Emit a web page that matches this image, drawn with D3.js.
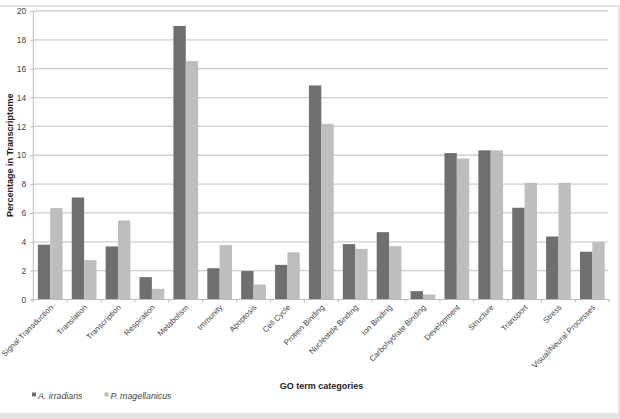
<!DOCTYPE html>
<html><head><meta charset="utf-8">
<script src="https://cdn.jsdelivr.net/npm/d3@7"></script>
<style>body{margin:0;background:#fff}svg{display:block;font-family:"Liberation Sans",Arial,sans-serif}</style>
</head><body><svg id="c" width="620" height="419"></svg>
<script>
const categories = ["Signal Transduction","Translation","Transcription","Respiration","Metabolism","Immunity","Apoptosis","Cell Cycle","Protein Binding","Nucleotide Binding","Ion Binding","Carbohydrate Binding","Development","Structure","Transport","Stress","Visual/Neural Processes"];
const seriesNames = ["A. irradians","P. magellanicus"];
const irradians = [3.8,7.07,3.68,1.55,18.96,2.17,1.97,2.4,14.84,3.84,4.67,0.58,10.15,10.34,6.36,4.37,3.31];
const magellanicus = [6.34,2.73,5.48,0.74,16.53,3.77,1.04,3.28,12.18,3.51,3.7,0.35,9.78,10.34,8.09,8.09,3.98];
const yTicks = [0,2,4,6,8,10,12,14,16,18,20];
const colors = ["#6f6f6f","#bebebe"];

const svg = d3.select("#c");
svg.append("rect").attr("x",-1).attr("y",6).attr("width",620).attr("height",408).attr("fill","#fff").attr("stroke","#c8c8c8").attr("stroke-width",1);
svg.append("rect").attr("x",0).attr("y",414).attr("width",620).attr("height",5).attr("fill","#e4e4e4");

const L=33.3, R=609.3, T=11, B=299.5;
const x = d3.scaleBand().domain(categories).range([L,R]).paddingInner(0).paddingOuter(0);
const y = d3.scaleLinear().domain([0,20]).range([B,T]);
const xs = d3.scaleBand().domain(seriesNames).range([0,x.bandwidth()]).paddingInner(0).paddingOuter(0.37);

svg.append("g").selectAll("line").data(yTicks.filter(d=>d>0)).join("line")
  .attr("x1",L).attr("x2",R-1).attr("y1",d=>y(d)).attr("y2",d=>y(d))
  .attr("stroke","#cfcfcf").attr("stroke-width",1.3);

const data = categories.map((c,i)=>({c, vals:[irradians[i],magellanicus[i]]}));
const g = svg.append("g");
g.selectAll("g").data(data).join("g").attr("transform",d=>`translate(${x(d.c)},0)`)
 .selectAll("rect").data(d=>d.vals.map((v,j)=>({v,s:seriesNames[j],j}))).join("rect")
 .attr("x",d=>xs(d.s)).attr("width",xs.bandwidth()).attr("y",d=>y(d.v)).attr("height",d=>B-y(d.v))
 .attr("fill",d=>colors[d.j]);

const ya = svg.append("g").attr("transform",`translate(${L},0)`).call(d3.axisLeft(y).tickValues(yTicks).tickSize(3).tickPadding(4));
ya.select(".domain").attr("stroke","#bdbdbd").attr("d",`M0,${T}V${B}`);
ya.selectAll(".tick line").attr("stroke","#bdbdbd");
ya.selectAll("text").attr("font-size",8.5).attr("fill","#444").attr("font-family","Liberation Sans, Arial");

const xa = svg.append("g").attr("transform",`translate(0,${B})`).call(d3.axisBottom(x).tickSize(0).tickFormat(""));
xa.select(".domain").attr("stroke","#bdbdbd").attr("d",`M${L},0H${R}`);
svg.append("g").selectAll("line").data(d3.range(categories.length+1)).join("line")
  .attr("x1",i=>L+i*x.bandwidth()).attr("x2",i=>L+i*x.bandwidth()).attr("y1",B).attr("y2",B+3).attr("stroke","#bdbdbd");
svg.append("g").selectAll("text").data(categories).join("text")
  .attr("transform",d=>`translate(${x(d)+x.bandwidth()/2+3.5},${B+8.5}) rotate(-45)`)
  .attr("text-anchor","end").attr("font-size",7.9).attr("fill","#444").text(d=>d);

svg.append("text").attr("transform",`translate(13,${(T+B)/2}) rotate(-90)`).attr("text-anchor","middle")
  .attr("font-size",9).attr("font-weight","bold").attr("fill","#222").text("Percentage in Transcriptome");
svg.append("text").attr("x",321.5).attr("y",389).attr("text-anchor","middle")
  .attr("font-size",9).attr("font-weight","bold").attr("fill","#222").text("GO term categories");

const lg = svg.append("g").selectAll("g").data(seriesNames).join("g")
  .attr("transform",(d,i)=>`translate(${i===0?32:104.5},396)`);
lg.append("rect").attr("x",0).attr("y",-3.5).attr("width",4).attr("height",4).attr("fill",(d,i)=>colors[i]);
lg.append("text").attr("x",6).attr("y",2.5).attr("font-size",8.8).attr("font-style","italic").attr("fill","#444").text(d=>d);
</script></body></html>
